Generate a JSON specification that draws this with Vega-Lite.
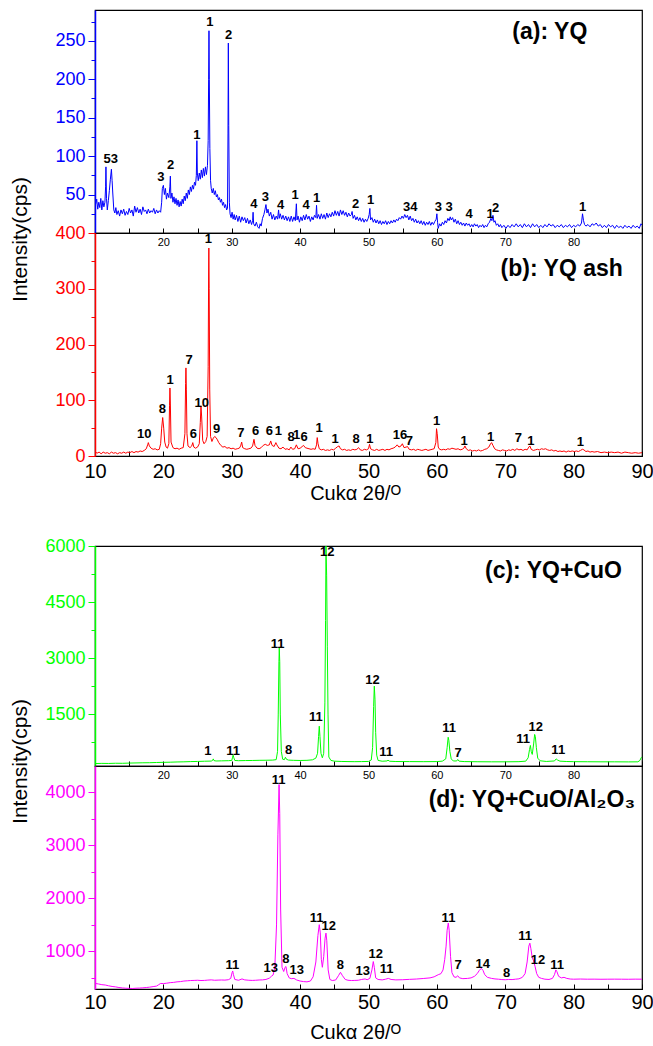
{
"$schema": "https://vega.github.io/schema/vega-lite/v6.json",
"background": "white",
"padding": {"left": 8, "top": 9, "right": 0, "bottom": 0},
"config": {"font": "Liberation Sans", "view": {"stroke": "black", "strokeWidth": 1.2}, "axis": {"grid": false, "labelFont": "Liberation Sans", "titleFont": "Liberation Sans", "labelOverlap": false, "labelFlush": false}},
"datasets": {
"a": [{"x":10,"y":52},{"x":10.1,"y":38},{"x":10.25,"y":44},{"x":10.4,"y":31},{"x":10.55,"y":40},{"x":10.7,"y":33},{"x":10.85,"y":45},{"x":11,"y":30},{"x":11.15,"y":42},{"x":11.3,"y":34},{"x":11.45,"y":40},{"x":11.55,"y":60},{"x":11.6,"y":86},{"x":11.68,"y":45},{"x":11.8,"y":30},{"x":11.95,"y":42},{"x":12.1,"y":55},{"x":12.25,"y":70},{"x":12.4,"y":83},{"x":12.5,"y":68},{"x":12.6,"y":52},{"x":12.75,"y":30},{"x":12.9,"y":26},{"x":13.05,"y":33},{"x":13.2,"y":24},{"x":13.4,"y":29},{"x":13.6,"y":22},{"x":13.8,"y":30},{"x":14,"y":25},{"x":14.2,"y":31},{"x":14.4,"y":23},{"x":14.6,"y":28},{"x":14.8,"y":24},{"x":15,"y":32},{"x":15.2,"y":26},{"x":15.4,"y":30},{"x":15.6,"y":22},{"x":15.8,"y":35},{"x":16,"y":27},{"x":16.2,"y":33},{"x":16.4,"y":26},{"x":16.6,"y":31},{"x":16.8,"y":24},{"x":17,"y":34},{"x":17.2,"y":28},{"x":17.4,"y":30},{"x":17.6,"y":25},{"x":17.8,"y":31},{"x":18,"y":26},{"x":18.2,"y":29},{"x":18.4,"y":27},{"x":18.6,"y":32},{"x":18.8,"y":25},{"x":19,"y":30},{"x":19.2,"y":26},{"x":19.4,"y":29},{"x":19.6,"y":27},{"x":19.75,"y":40},{"x":19.85,"y":58},{"x":20,"y":62},{"x":20.15,"y":50},{"x":20.3,"y":58},{"x":20.45,"y":44},{"x":20.6,"y":52},{"x":20.8,"y":46},{"x":20.95,"y":60},{"x":21.02,"y":74},{"x":21.1,"y":45},{"x":21.25,"y":52},{"x":21.4,"y":40},{"x":21.55,"y":47},{"x":21.7,"y":38},{"x":21.85,"y":45},{"x":22,"y":36},{"x":22.15,"y":43},{"x":22.3,"y":34},{"x":22.45,"y":41},{"x":22.6,"y":35},{"x":22.75,"y":44},{"x":22.9,"y":38},{"x":23.05,"y":48},{"x":23.2,"y":42},{"x":23.35,"y":52},{"x":23.5,"y":45},{"x":23.65,"y":56},{"x":23.8,"y":50},{"x":23.95,"y":60},{"x":24.1,"y":54},{"x":24.25,"y":62},{"x":24.4,"y":57},{"x":24.55,"y":66},{"x":24.7,"y":62},{"x":24.82,"y":75},{"x":24.9,"y":120},{"x":24.97,"y":78},{"x":25.1,"y":68},{"x":25.25,"y":78},{"x":25.4,"y":70},{"x":25.55,"y":82},{"x":25.7,"y":72},{"x":25.85,"y":84},{"x":26,"y":74},{"x":26.15,"y":86},{"x":26.3,"y":76},{"x":26.45,"y":88},{"x":26.55,"y":120},{"x":26.62,"y":200},{"x":26.67,"y":263},{"x":26.72,"y":200},{"x":26.8,"y":110},{"x":26.9,"y":68},{"x":27,"y":58},{"x":27.15,"y":52},{"x":27.3,"y":58},{"x":27.45,"y":50},{"x":27.6,"y":55},{"x":27.75,"y":47},{"x":27.9,"y":50},{"x":28.05,"y":43},{"x":28.2,"y":46},{"x":28.35,"y":40},{"x":28.5,"y":44},{"x":28.65,"y":36},{"x":28.8,"y":40},{"x":28.95,"y":33},{"x":29.1,"y":37},{"x":29.25,"y":30},{"x":29.38,"y":32},{"x":29.45,"y":130},{"x":29.5,"y":247},{"x":29.56,"y":140},{"x":29.65,"y":40},{"x":29.75,"y":25},{"x":29.9,"y":20},{"x":30.05,"y":27},{"x":30.2,"y":18},{"x":30.35,"y":24},{"x":30.5,"y":17},{"x":30.7,"y":23},{"x":30.9,"y":15},{"x":31.1,"y":22},{"x":31.3,"y":14},{"x":31.5,"y":21},{"x":31.7,"y":16},{"x":31.9,"y":20},{"x":32.1,"y":13},{"x":32.3,"y":19},{"x":32.5,"y":12},{"x":32.7,"y":17},{"x":32.9,"y":11},{"x":33.05,"y":16},{"x":33.12,"y":27},{"x":33.2,"y":12},{"x":33.4,"y":9},{"x":33.6,"y":14},{"x":33.8,"y":8},{"x":34,"y":6},{"x":34.15,"y":12},{"x":34.3,"y":9},{"x":34.5,"y":19},{"x":34.7,"y":24},{"x":34.85,"y":30},{"x":35,"y":37},{"x":35.15,"y":26},{"x":35.3,"y":31},{"x":35.5,"y":22},{"x":35.7,"y":27},{"x":35.9,"y":18},{"x":36.1,"y":24},{"x":36.3,"y":17},{"x":36.5,"y":22},{"x":36.7,"y":18},{"x":36.85,"y":30},{"x":36.95,"y":19},{"x":37.1,"y":25},{"x":37.3,"y":18},{"x":37.5,"y":23},{"x":37.7,"y":17},{"x":37.9,"y":22},{"x":38.1,"y":16},{"x":38.3,"y":21},{"x":38.5,"y":15},{"x":38.7,"y":22},{"x":38.9,"y":15},{"x":39.1,"y":21},{"x":39.3,"y":16},{"x":39.45,"y":38},{"x":39.55,"y":17},{"x":39.7,"y":22},{"x":39.9,"y":14},{"x":40.1,"y":21},{"x":40.3,"y":16},{"x":40.5,"y":23},{"x":40.7,"y":17},{"x":40.9,"y":24},{"x":41.1,"y":18},{"x":41.3,"y":22},{"x":41.5,"y":15},{"x":41.7,"y":21},{"x":41.9,"y":17},{"x":42.1,"y":23},{"x":42.3,"y":20},{"x":42.4,"y":36},{"x":42.5,"y":19},{"x":42.7,"y":24},{"x":42.9,"y":18},{"x":43.1,"y":25},{"x":43.3,"y":19},{"x":43.5,"y":24},{"x":43.7,"y":18},{"x":43.9,"y":26},{"x":44.1,"y":20},{"x":44.3,"y":25},{"x":44.5,"y":21},{"x":44.7,"y":27},{"x":44.9,"y":22},{"x":45.1,"y":29},{"x":45.3,"y":23},{"x":45.5,"y":28},{"x":45.7,"y":22},{"x":45.9,"y":30},{"x":46.1,"y":24},{"x":46.3,"y":29},{"x":46.5,"y":23},{"x":46.7,"y":27},{"x":46.9,"y":21},{"x":47.1,"y":26},{"x":47.3,"y":22},{"x":47.5,"y":24},{"x":47.6,"y":28},{"x":47.75,"y":19},{"x":47.95,"y":23},{"x":48.15,"y":17},{"x":48.35,"y":21},{"x":48.55,"y":16},{"x":48.75,"y":20},{"x":48.95,"y":15},{"x":49.15,"y":19},{"x":49.35,"y":14},{"x":49.55,"y":18},{"x":49.75,"y":15},{"x":49.95,"y":19},{"x":50.1,"y":24},{"x":50.2,"y":32},{"x":50.3,"y":17},{"x":50.5,"y":20},{"x":50.7,"y":14},{"x":50.9,"y":18},{"x":51.1,"y":13},{"x":51.3,"y":17},{"x":51.5,"y":12},{"x":51.7,"y":16},{"x":51.9,"y":11},{"x":52.1,"y":15},{"x":52.3,"y":12},{"x":52.5,"y":16},{"x":52.7,"y":11},{"x":52.9,"y":15},{"x":53.1,"y":12},{"x":53.3,"y":16},{"x":53.5,"y":13},{"x":53.7,"y":17},{"x":53.9,"y":14},{"x":54.1,"y":18},{"x":54.3,"y":16},{"x":54.5,"y":20},{"x":54.7,"y":18},{"x":54.9,"y":22},{"x":55.1,"y":19},{"x":55.3,"y":24},{"x":55.5,"y":20},{"x":55.7,"y":23},{"x":55.9,"y":17},{"x":56.1,"y":22},{"x":56.3,"y":16},{"x":56.5,"y":19},{"x":56.7,"y":14},{"x":56.9,"y":18},{"x":57.1,"y":13},{"x":57.3,"y":16},{"x":57.5,"y":12},{"x":57.7,"y":16},{"x":57.9,"y":11},{"x":58.1,"y":15},{"x":58.3,"y":10},{"x":58.5,"y":14},{"x":58.7,"y":11},{"x":58.9,"y":15},{"x":59.1,"y":10},{"x":59.3,"y":14},{"x":59.5,"y":11},{"x":59.7,"y":15},{"x":59.9,"y":18},{"x":60,"y":25},{"x":60.1,"y":14},{"x":60.2,"y":6},{"x":60.4,"y":12},{"x":60.6,"y":9},{"x":60.8,"y":14},{"x":61,"y":11},{"x":61.2,"y":16},{"x":61.4,"y":13},{"x":61.6,"y":19},{"x":61.8,"y":16},{"x":61.95,"y":21},{"x":62.1,"y":17},{"x":62.3,"y":20},{"x":62.5,"y":14},{"x":62.7,"y":18},{"x":62.9,"y":12},{"x":63.1,"y":16},{"x":63.3,"y":11},{"x":63.5,"y":14},{"x":63.7,"y":10},{"x":63.9,"y":13},{"x":64.1,"y":9},{"x":64.3,"y":13},{"x":64.5,"y":10},{"x":64.7,"y":12},{"x":64.9,"y":8},{"x":65.1,"y":11},{"x":65.3,"y":8},{"x":65.5,"y":12},{"x":65.7,"y":9},{"x":65.9,"y":11},{"x":66.1,"y":7},{"x":66.3,"y":10},{"x":66.5,"y":8},{"x":66.7,"y":11},{"x":66.9,"y":7},{"x":67.1,"y":10},{"x":67.3,"y":8},{"x":67.5,"y":12},{"x":67.7,"y":14},{"x":67.9,"y":19},{"x":68.05,"y":16},{"x":68.2,"y":23},{"x":68.35,"y":14},{"x":68.5,"y":16},{"x":68.7,"y":10},{"x":68.9,"y":12},{"x":69.1,"y":8},{"x":69.3,"y":11},{"x":69.5,"y":7},{"x":69.8,"y":10},{"x":70.1,"y":6},{"x":70.4,"y":10},{"x":70.7,"y":7},{"x":71,"y":11},{"x":71.3,"y":8},{"x":71.6,"y":12},{"x":71.9,"y":8},{"x":72.2,"y":11},{"x":72.5,"y":7},{"x":72.8,"y":12},{"x":73.1,"y":8},{"x":73.4,"y":11},{"x":73.7,"y":7},{"x":74,"y":12},{"x":74.3,"y":8},{"x":74.6,"y":11},{"x":74.9,"y":7},{"x":75.2,"y":10},{"x":75.5,"y":7},{"x":75.8,"y":11},{"x":76.1,"y":8},{"x":76.4,"y":12},{"x":76.7,"y":9},{"x":77,"y":11},{"x":77.3,"y":7},{"x":77.6,"y":10},{"x":77.9,"y":8},{"x":78.2,"y":11},{"x":78.5,"y":7},{"x":78.8,"y":10},{"x":79.1,"y":8},{"x":79.4,"y":11},{"x":79.7,"y":7},{"x":80,"y":10},{"x":80.3,"y":8},{"x":80.6,"y":11},{"x":80.9,"y":9},{"x":81.15,"y":13},{"x":81.3,"y":25},{"x":81.45,"y":16},{"x":81.6,"y":11},{"x":81.8,"y":9},{"x":82.1,"y":11},{"x":82.4,"y":8},{"x":82.7,"y":12},{"x":83,"y":10},{"x":83.3,"y":13},{"x":83.6,"y":9},{"x":83.9,"y":11},{"x":84.2,"y":7},{"x":84.5,"y":10},{"x":84.8,"y":7},{"x":85.1,"y":11},{"x":85.4,"y":8},{"x":85.7,"y":10},{"x":86,"y":6},{"x":86.3,"y":10},{"x":86.6,"y":7},{"x":86.9,"y":9},{"x":87.2,"y":6},{"x":87.5,"y":10},{"x":87.8,"y":7},{"x":88.1,"y":9},{"x":88.4,"y":6},{"x":88.7,"y":10},{"x":89,"y":7},{"x":89.3,"y":9},{"x":89.6,"y":6},{"x":89.85,"y":12},{"x":90,"y":10}],
"b": [{"x":10,"y":8},{"x":10.3,"y":5},{"x":10.6,"y":7},{"x":10.9,"y":4},{"x":11.2,"y":7},{"x":11.5,"y":5},{"x":11.8,"y":6},{"x":12.1,"y":4},{"x":12.4,"y":7},{"x":12.7,"y":5},{"x":13,"y":6},{"x":13.3,"y":4},{"x":13.6,"y":6},{"x":13.9,"y":5},{"x":14.2,"y":7},{"x":14.5,"y":5},{"x":14.8,"y":7},{"x":15.1,"y":6},{"x":15.4,"y":8},{"x":15.7,"y":6},{"x":16,"y":8},{"x":16.3,"y":7},{"x":16.6,"y":9},{"x":16.9,"y":8},{"x":17.2,"y":10},{"x":17.5,"y":13},{"x":17.7,"y":20},{"x":17.8,"y":24},{"x":17.95,"y":18},{"x":18.2,"y":14},{"x":18.5,"y":12},{"x":18.8,"y":13},{"x":19.1,"y":11},{"x":19.4,"y":12},{"x":19.6,"y":22},{"x":19.75,"y":50},{"x":19.9,"y":69},{"x":20.05,"y":50},{"x":20.2,"y":25},{"x":20.4,"y":16},{"x":20.6,"y":14},{"x":20.8,"y":22},{"x":20.9,"y":90},{"x":20.96,"y":122},{"x":21.02,"y":95},{"x":21.12,"y":25},{"x":21.4,"y":15},{"x":21.7,"y":13},{"x":22,"y":14},{"x":22.3,"y":12},{"x":22.6,"y":14},{"x":22.9,"y":15},{"x":23.15,"y":40},{"x":23.25,"y":130},{"x":23.3,"y":158},{"x":23.36,"y":120},{"x":23.45,"y":40},{"x":23.6,"y":18},{"x":23.9,"y":15},{"x":24.15,"y":18},{"x":24.3,"y":24},{"x":24.45,"y":16},{"x":24.7,"y":14},{"x":25,"y":16},{"x":25.25,"y":22},{"x":25.4,"y":60},{"x":25.5,"y":90},{"x":25.6,"y":70},{"x":25.75,"y":28},{"x":25.95,"y":22},{"x":26.2,"y":26},{"x":26.4,"y":35},{"x":26.55,"y":160},{"x":26.62,"y":330},{"x":26.65,"y":373},{"x":26.7,"y":300},{"x":26.78,"y":120},{"x":26.9,"y":35},{"x":27.1,"y":26},{"x":27.3,"y":32},{"x":27.5,"y":35},{"x":27.7,"y":33},{"x":27.9,"y":29},{"x":28.1,"y":24},{"x":28.4,"y":19},{"x":28.7,"y":16},{"x":29,"y":17},{"x":29.3,"y":14},{"x":29.6,"y":15},{"x":29.9,"y":13},{"x":30.2,"y":14},{"x":30.5,"y":12},{"x":30.8,"y":13},{"x":31.1,"y":14},{"x":31.3,"y":18},{"x":31.45,"y":25},{"x":31.6,"y":15},{"x":31.9,"y":13},{"x":32.2,"y":12},{"x":32.5,"y":13},{"x":32.8,"y":14},{"x":33.05,"y":18},{"x":33.25,"y":30},{"x":33.4,"y":19},{"x":33.7,"y":14},{"x":34,"y":13},{"x":34.3,"y":15},{"x":34.6,"y":19},{"x":34.9,"y":21},{"x":35.2,"y":19},{"x":35.5,"y":20},{"x":35.7,"y":27},{"x":35.9,"y":19},{"x":36.2,"y":17},{"x":36.45,"y":24},{"x":36.6,"y":20},{"x":36.9,"y":14},{"x":37.2,"y":13},{"x":37.5,"y":16},{"x":37.8,"y":12},{"x":38.1,"y":13},{"x":38.4,"y":11},{"x":38.65,"y":16},{"x":38.9,"y":12},{"x":39.2,"y":13},{"x":39.45,"y":20},{"x":39.7,"y":13},{"x":40,"y":14},{"x":40.3,"y":17},{"x":40.5,"y":19},{"x":40.75,"y":15},{"x":41,"y":14},{"x":41.3,"y":13},{"x":41.6,"y":12},{"x":41.9,"y":13},{"x":42.2,"y":12},{"x":42.4,"y":20},{"x":42.5,"y":33},{"x":42.62,"y":22},{"x":42.8,"y":13},{"x":43.1,"y":11},{"x":43.4,"y":12},{"x":43.7,"y":10},{"x":44,"y":11},{"x":44.3,"y":10},{"x":44.6,"y":12},{"x":44.9,"y":11},{"x":45.2,"y":14},{"x":45.5,"y":17},{"x":45.7,"y":18},{"x":45.9,"y":13},{"x":46.2,"y":11},{"x":46.5,"y":12},{"x":46.8,"y":10},{"x":47.1,"y":11},{"x":47.4,"y":10},{"x":47.7,"y":12},{"x":48,"y":11},{"x":48.3,"y":12},{"x":48.55,"y":15},{"x":48.8,"y":11},{"x":49.1,"y":10},{"x":49.4,"y":12},{"x":49.7,"y":11},{"x":50,"y":13},{"x":50.15,"y":21},{"x":50.3,"y":13},{"x":50.6,"y":11},{"x":50.9,"y":10},{"x":51.2,"y":12},{"x":51.5,"y":10},{"x":51.8,"y":11},{"x":52.1,"y":12},{"x":52.4,"y":10},{"x":52.7,"y":12},{"x":53,"y":11},{"x":53.3,"y":13},{"x":53.6,"y":14},{"x":53.9,"y":16},{"x":54.2,"y":20},{"x":54.45,"y":16},{"x":54.75,"y":18},{"x":54.95,"y":22},{"x":55.2,"y":15},{"x":55.5,"y":16},{"x":55.7,"y":17},{"x":55.95,"y":12},{"x":56.3,"y":11},{"x":56.6,"y":12},{"x":56.9,"y":10},{"x":57.2,"y":12},{"x":57.5,"y":11},{"x":57.8,"y":10},{"x":58.1,"y":11},{"x":58.4,"y":12},{"x":58.7,"y":10},{"x":59,"y":11},{"x":59.3,"y":12},{"x":59.6,"y":13},{"x":59.85,"y":24},{"x":59.95,"y":49},{"x":60.05,"y":40},{"x":60.2,"y":16},{"x":60.4,"y":12},{"x":60.7,"y":11},{"x":61,"y":12},{"x":61.3,"y":11},{"x":61.6,"y":13},{"x":61.9,"y":12},{"x":62.2,"y":14},{"x":62.5,"y":13},{"x":62.8,"y":12},{"x":63.1,"y":13},{"x":63.4,"y":11},{"x":63.7,"y":12},{"x":63.95,"y":14},{"x":64.1,"y":18},{"x":64.3,"y":13},{"x":64.6,"y":10},{"x":64.9,"y":11},{"x":65.2,"y":9},{"x":65.5,"y":10},{"x":65.8,"y":9},{"x":66.1,"y":11},{"x":66.4,"y":9},{"x":66.7,"y":10},{"x":67,"y":12},{"x":67.3,"y":13},{"x":67.6,"y":16},{"x":67.85,"y":22},{"x":68,"y":24},{"x":68.2,"y":19},{"x":68.45,"y":13},{"x":68.7,"y":11},{"x":69,"y":10},{"x":69.3,"y":9},{"x":69.6,"y":11},{"x":69.9,"y":10},{"x":70.2,"y":9},{"x":70.5,"y":11},{"x":70.8,"y":10},{"x":71.1,"y":12},{"x":71.4,"y":10},{"x":71.7,"y":13},{"x":72,"y":11},{"x":72.3,"y":12},{"x":72.6,"y":10},{"x":72.9,"y":12},{"x":73.2,"y":11},{"x":73.45,"y":16},{"x":73.6,"y":18},{"x":73.8,"y":12},{"x":74.1,"y":10},{"x":74.4,"y":11},{"x":74.7,"y":12},{"x":75,"y":11},{"x":75.3,"y":13},{"x":75.6,"y":12},{"x":75.9,"y":13},{"x":76.2,"y":11},{"x":76.5,"y":10},{"x":76.8,"y":11},{"x":77.1,"y":9},{"x":77.4,"y":10},{"x":77.7,"y":8},{"x":78,"y":9},{"x":78.3,"y":8},{"x":78.6,"y":9},{"x":78.9,"y":7},{"x":79.2,"y":9},{"x":79.5,"y":8},{"x":79.8,"y":9},{"x":80.1,"y":8},{"x":80.4,"y":9},{"x":80.7,"y":8},{"x":81,"y":10},{"x":81.3,"y":12},{"x":81.5,"y":11},{"x":81.8,"y":8},{"x":82.1,"y":9},{"x":82.4,"y":7},{"x":82.7,"y":8},{"x":83,"y":7},{"x":83.5,"y":8},{"x":84,"y":6},{"x":84.5,"y":7},{"x":85,"y":6},{"x":85.5,"y":7},{"x":86,"y":6},{"x":86.5,"y":7},{"x":87,"y":5},{"x":87.5,"y":7},{"x":88,"y":6},{"x":88.5,"y":5},{"x":89,"y":6},{"x":89.5,"y":5},{"x":90,"y":6}],
"c": [{"x":10,"y":176},{"x":11,"y":180},{"x":12,"y":178},{"x":13,"y":184},{"x":14,"y":182},{"x":15,"y":188},{"x":16,"y":192},{"x":17,"y":196},{"x":18,"y":198},{"x":19,"y":204},{"x":20,"y":208},{"x":21,"y":212},{"x":22,"y":218},{"x":23,"y":222},{"x":24,"y":228},{"x":25,"y":232},{"x":26,"y":238},{"x":27,"y":242},{"x":27.2,"y":260},{"x":27.3,"y":300},{"x":27.4,"y":255},{"x":27.7,"y":244},{"x":28.5,"y":248},{"x":29.5,"y":252},{"x":30,"y":258},{"x":30.1,"y":330},{"x":30.2,"y":400},{"x":30.3,"y":330},{"x":30.45,"y":258},{"x":31,"y":252},{"x":32,"y":256},{"x":33,"y":258},{"x":34,"y":262},{"x":35,"y":264},{"x":36,"y":268},{"x":36.5,"y":280},{"x":36.7,"y":500},{"x":36.8,"y":1500},{"x":36.9,"y":2900},{"x":36.95,"y":3275},{"x":37.02,"y":2900},{"x":37.1,"y":1500},{"x":37.25,"y":500},{"x":37.45,"y":290},{"x":37.7,"y":280},{"x":37.85,"y":345},{"x":38,"y":290},{"x":38.3,"y":268},{"x":39,"y":262},{"x":40,"y":258},{"x":41,"y":262},{"x":41.8,"y":275},{"x":42.3,"y":320},{"x":42.55,"y":450},{"x":42.7,"y":900},{"x":42.8,"y":1176},{"x":42.9,"y":900},{"x":43.05,"y":450},{"x":43.25,"y":330},{"x":43.45,"y":450},{"x":43.62,"y":1800},{"x":43.72,"y":4000},{"x":43.78,"y":6000},{"x":43.88,"y":5200},{"x":43.98,"y":3300},{"x":44.08,"y":1500},{"x":44.2,"y":350},{"x":44.5,"y":260},{"x":45,"y":240},{"x":46,"y":232},{"x":47,"y":228},{"x":48,"y":226},{"x":49,"y":228},{"x":50,"y":232},{"x":50.4,"y":270},{"x":50.6,"y":600},{"x":50.75,"y":1700},{"x":50.85,"y":2248},{"x":50.95,"y":1900},{"x":51.05,"y":1000},{"x":51.2,"y":400},{"x":51.4,"y":260},{"x":52,"y":238},{"x":52.7,"y":245},{"x":52.85,"y":265},{"x":53.1,"y":238},{"x":54,"y":230},{"x":56,"y":228},{"x":58,"y":226},{"x":60,"y":228},{"x":60.8,"y":240},{"x":61.3,"y":300},{"x":61.5,"y":600},{"x":61.65,"y":880},{"x":61.75,"y":800},{"x":61.9,"y":500},{"x":62.1,"y":300},{"x":62.4,"y":245},{"x":62.9,"y":245},{"x":63.05,"y":285},{"x":63.25,"y":240},{"x":64,"y":228},{"x":66,"y":224},{"x":68,"y":222},{"x":70,"y":222},{"x":72,"y":226},{"x":73,"y":240},{"x":73.35,"y":330},{"x":73.55,"y":550},{"x":73.68,"y":660},{"x":73.8,"y":500},{"x":73.95,"y":420},{"x":74.15,"y":700},{"x":74.3,"y":955},{"x":74.4,"y":900},{"x":74.55,"y":600},{"x":74.75,"y":320},{"x":75.1,"y":250},{"x":76,"y":232},{"x":77.2,"y":245},{"x":77.45,"y":300},{"x":77.65,"y":270},{"x":78,"y":240},{"x":79,"y":230},{"x":80,"y":226},{"x":82,"y":224},{"x":84,"y":222},{"x":86,"y":222},{"x":88,"y":220},{"x":89.4,"y":222},{"x":89.7,"y":260},{"x":89.9,"y":340},{"x":90,"y":345}],
"d": [{"x":10,"y":396},{"x":10.5,"y":385},{"x":11,"y":372},{"x":11.5,"y":365},{"x":12,"y":350},{"x":12.5,"y":338},{"x":13,"y":330},{"x":13.5,"y":318},{"x":14,"y":310},{"x":14.5,"y":305},{"x":15,"y":302},{"x":15.5,"y":300},{"x":16,"y":305},{"x":16.5,"y":308},{"x":17,"y":312},{"x":17.5,"y":318},{"x":18,"y":325},{"x":18.5,"y":335},{"x":19,"y":345},{"x":19.3,"y":370},{"x":19.6,"y":395},{"x":20,"y":392},{"x":20.5,"y":400},{"x":21,"y":410},{"x":21.5,"y":415},{"x":22,"y":425},{"x":22.5,"y":430},{"x":23,"y":440},{"x":23.5,"y":445},{"x":24,"y":450},{"x":24.5,"y":452},{"x":25,"y":455},{"x":25.5,"y":450},{"x":26,"y":452},{"x":26.5,"y":458},{"x":27,"y":462},{"x":27.5,"y":455},{"x":28,"y":458},{"x":28.5,"y":460},{"x":29,"y":458},{"x":29.5,"y":465},{"x":29.85,"y":490},{"x":30.05,"y":600},{"x":30.14,"y":630},{"x":30.25,"y":560},{"x":30.45,"y":470},{"x":31,"y":455},{"x":31.5,"y":480},{"x":31.9,"y":462},{"x":32.5,"y":455},{"x":33,"y":452},{"x":33.5,"y":455},{"x":34,"y":460},{"x":34.5,"y":462},{"x":35,"y":470},{"x":35.5,"y":495},{"x":35.8,"y":530},{"x":36.05,"y":555},{"x":36.3,"y":700},{"x":36.55,"y":1500},{"x":36.75,"y":3200},{"x":36.92,"y":4150},{"x":37.02,"y":3600},{"x":37.15,"y":1800},{"x":37.35,"y":700},{"x":37.6,"y":620},{"x":37.8,"y":700},{"x":37.93,"y":715},{"x":38.1,"y":580},{"x":38.4,"y":500},{"x":38.7,"y":485},{"x":39.1,"y":490},{"x":39.5,"y":460},{"x":40,"y":440},{"x":40.5,"y":430},{"x":41,"y":425},{"x":41.5,"y":440},{"x":41.9,"y":520},{"x":42.3,"y":800},{"x":42.6,"y":1300},{"x":42.8,"y":1505},{"x":42.95,"y":1350},{"x":43.1,"y":850},{"x":43.25,"y":700},{"x":43.45,"y":900},{"x":43.65,"y":1250},{"x":43.78,"y":1345},{"x":43.9,"y":1200},{"x":44.1,"y":650},{"x":44.35,"y":470},{"x":44.7,"y":450},{"x":45.2,"y":460},{"x":45.6,"y":540},{"x":45.9,"y":605},{"x":46.2,"y":540},{"x":46.6,"y":470},{"x":47,"y":455},{"x":47.5,"y":450},{"x":48,"y":452},{"x":48.5,"y":455},{"x":49,"y":470},{"x":49.5,"y":480},{"x":49.8,"y":465},{"x":50.2,"y":490},{"x":50.5,"y":650},{"x":50.7,"y":808},{"x":50.85,"y":700},{"x":51.05,"y":500},{"x":51.4,"y":470},{"x":52,"y":462},{"x":52.5,"y":475},{"x":52.9,"y":490},{"x":53.3,"y":470},{"x":54,"y":462},{"x":55,"y":465},{"x":56,"y":472},{"x":57,"y":478},{"x":58,"y":488},{"x":59,"y":500},{"x":59.6,"y":520},{"x":60.2,"y":560},{"x":60.6,"y":580},{"x":60.9,"y":650},{"x":61.15,"y":850},{"x":61.35,"y":1100},{"x":61.5,"y":1400},{"x":61.67,"y":1535},{"x":61.8,"y":1400},{"x":62.0,"y":900},{"x":62.2,"y":600},{"x":62.5,"y":520},{"x":62.8,"y":510},{"x":63.05,"y":540},{"x":63.3,"y":500},{"x":63.8,"y":485},{"x":64.5,"y":490},{"x":65,"y":500},{"x":65.5,"y":530},{"x":65.9,"y":580},{"x":66.2,"y":640},{"x":66.5,"y":680},{"x":66.75,"y":640},{"x":67,"y":560},{"x":67.4,"y":510},{"x":68,"y":490},{"x":68.5,"y":480},{"x":69,"y":475},{"x":69.5,"y":468},{"x":70,"y":465},{"x":70.5,"y":470},{"x":71,"y":468},{"x":71.5,"y":475},{"x":72,"y":482},{"x":72.5,"y":510},{"x":72.9,"y":580},{"x":73.2,"y":800},{"x":73.45,"y":1100},{"x":73.6,"y":1155},{"x":73.75,"y":1050},{"x":73.95,"y":880},{"x":74.15,"y":820},{"x":74.35,"y":720},{"x":74.6,"y":580},{"x":74.9,"y":510},{"x":75.3,"y":490},{"x":75.8,"y":475},{"x":76.4,"y":470},{"x":76.9,"y":490},{"x":77.2,"y":560},{"x":77.4,"y":650},{"x":77.55,"y":620},{"x":77.8,"y":530},{"x":78.2,"y":500},{"x":78.6,"y":510},{"x":79,"y":490},{"x":79.5,"y":478},{"x":80,"y":475},{"x":81,"y":478},{"x":82,"y":475},{"x":83,"y":476},{"x":84,"y":474},{"x":85,"y":475},{"x":86,"y":476},{"x":87,"y":475},{"x":88,"y":474},{"x":89,"y":476},{"x":90,"y":475}],
"la": [{"x":12.3,"y":87.5,"t":"53"},{"x":19.65,"y":64,"t":"3"},{"x":21.07,"y":79,"t":"2"},{"x":24.9,"y":118,"t":"1"},{"x":26.8,"y":265,"t":"1"},{"x":29.55,"y":248,"t":"2"},{"x":33.25,"y":28,"t":"4"},{"x":34.9,"y":38,"t":"3"},{"x":37.15,"y":27,"t":"4"},{"x":39.25,"y":40,"t":"1"},{"x":40.86,"y":27,"t":"4"},{"x":42.4,"y":36,"t":"1"},{"x":48.1,"y":29,"t":"2"},{"x":50.3,"y":34,"t":"1"},{"x":56.1,"y":25,"t":"34"},{"x":60.2,"y":25,"t":"3"},{"x":61.8,"y":25,"t":"3"},{"x":64.7,"y":16,"t":"4"},{"x":67.8,"y":16,"t":"1"},{"x":68.6,"y":24,"t":"2"},{"x":81.3,"y":25,"t":"1"}],
"lb": [{"x":17.2,"y":27,"t":"10"},{"x":19.85,"y":72,"t":"8"},{"x":20.97,"y":124,"t":"1"},{"x":23.75,"y":159,"t":"7"},{"x":24.4,"y":27,"t":"6"},{"x":25.6,"y":82,"t":"10"},{"x":26.57,"y":377,"t":"1"},{"x":27.8,"y":36,"t":"9"},{"x":31.35,"y":28,"t":"7"},{"x":33.5,"y":32,"t":"6"},{"x":35.5,"y":32,"t":"6"},{"x":36.8,"y":32,"t":"1"},{"x":38.67,"y":21,"t":"8"},{"x":39.5,"y":25,"t":"1"},{"x":40.6,"y":21,"t":"6"},{"x":42.76,"y":37,"t":"1"},{"x":45.1,"y":18,"t":"1"},{"x":48.2,"y":18,"t":"8"},{"x":50.2,"y":18,"t":"1"},{"x":54.6,"y":25,"t":"16"},{"x":55.97,"y":15,"t":"7"},{"x":59.97,"y":51,"t":"1"},{"x":64,"y":15,"t":"1"},{"x":67.85,"y":21,"t":"1"},{"x":71.9,"y":19,"t":"7"},{"x":73.75,"y":15,"t":"1"},{"x":81,"y":12,"t":"1"}],
"lc": [{"x":26.5,"y":327,"t":"1"},{"x":30.2,"y":327,"t":"11"},{"x":36.7,"y":3186,"t":"11"},{"x":38.3,"y":354,"t":"8"},{"x":42.3,"y":1222,"t":"11"},{"x":43.98,"y":5643,"t":"12"},{"x":50.6,"y":2221,"t":"12"},{"x":52.56,"y":300,"t":"11"},{"x":61.8,"y":927,"t":"11"},{"x":63.1,"y":284,"t":"7"},{"x":72.6,"y":640,"t":"11"},{"x":74.45,"y":970,"t":"12"},{"x":77.75,"y":345,"t":"11"}],
"ld": [{"x":30.1,"y":618,"t":"11"},{"x":35.7,"y":555,"t":"13"},{"x":36.85,"y":4100,"t":"11"},{"x":37.9,"y":727,"t":"8"},{"x":39.5,"y":525,"t":"13"},{"x":42.4,"y":1505,"t":"11"},{"x":44.2,"y":1346,"t":"12"},{"x":45.9,"y":605,"t":"8"},{"x":49.15,"y":504,"t":"13"},{"x":51.05,"y":827,"t":"12"},{"x":52.65,"y":530,"t":"11"},{"x":61.7,"y":1505,"t":"11"},{"x":63.1,"y":618,"t":"7"},{"x":66.7,"y":637,"t":"14"},{"x":70.2,"y":460,"t":"8"},{"x":72.9,"y":1156,"t":"11"},{"x":74.8,"y":713,"t":"12"},{"x":77.6,"y":605,"t":"11"}]
},
"vconcat": [
{"width": 547, "height": 223,
 "encoding": {
  "x": {"field": "x", "type": "quantitative", "scale": {"domain": [10, 90], "nice": false, "zero": false},
   "axis": {"values": [10,15,20,25,30,35,40,45,50,55,60,65,70,75,80,85,90], "labelExpr": "datum.value % 10 == 0 && datum.value > 10 && datum.value < 90 ? datum.label : ''", "labelFontSize": 11, "tickSize": -5, "labelPadding": 8, "domainColor": "black", "tickColor": "black", "labelColor": "black", "title": null}},
  "y": {"field": "y", "type": "quantitative", "scale": {"domain": [0, 290], "nice": false, "zero": false},
   "axis": {"values": [25,50,75,100,125,150,175,200,225,250,275], "labelExpr": "datum.value % 50 == 0 ? datum.label : ''", "tickSize": {"condition": {"test": "datum.value % 50 != 0", "value": 4}, "value": 7}, "format": "d", "domainColor": "#0000ff", "tickColor": "#0000ff", "labelColor": "#0000ff", "labelFontSize": 18, "domainWidth": 1.5, "labelPadding": 3, "title": "Intensity(cps)", "titleFontSize": 21, "titleFontWeight": "normal", "titleColor": "black", "titleX": -75, "titleY": 229, "titleAngle": -90, "titleAlign": "center", "titleBaseline": "middle"}}
 },
 "layer": [
  {"data": {"name": "a"}, "mark": {"type": "line", "color": "#0000ff", "strokeWidth": 1, "clip": true}},
  {"data": {"name": "la"}, "mark": {"type": "text", "fontSize": 13, "fontWeight": "bold", "baseline": "bottom", "align": "center", "color": "black"}, "encoding": {"text": {"field": "t"}}},
  {"data": {"values": [{"x": 82, "y": 262, "t": "(a): YQ"}]}, "mark": {"type": "text", "fontSize": 23, "fontWeight": "bold", "baseline": "middle", "align": "right", "color": "black"}, "encoding": {"text": {"field": "t"}}},
  {"data": {"values": [{}]}, "mark": {"type": "rule", "color": "#0000ff", "strokeWidth": 1.5}, "encoding": {"x": {"datum": 90}, "y": {"datum": 0}, "y2": {"datum": 290}}}
 ]},
{"width": 547, "height": 223,
 "encoding": {
  "x": {"field": "x", "type": "quantitative", "scale": {"domain": [10, 90], "nice": false, "zero": false},
   "axis": {"values": [10,15,20,25,30,35,40,45,50,55,60,65,70,75,80,85,90], "labelExpr": "datum.value % 10 == 0 ? datum.label : ''", "labelFontSize": 20, "tickSize": -5, "labelPadding": 10, "domainColor": "black", "tickColor": "black", "labelColor": "black", "title": "Cukα 2θ/ᴼ", "titleFontSize": 20, "titleFontWeight": "normal", "titleColor": "black", "titleX": 260, "titleY": 37, "titleAlign": "center", "titleBaseline": "middle"}},
  "y": {"field": "y", "type": "quantitative", "scale": {"domain": [0, 400], "nice": false, "zero": false},
   "axis": {"values": [0,50,100,150,200,250,300,350,400], "labelExpr": "datum.value % 100 == 0 ? datum.label : ''", "tickSize": {"condition": {"test": "datum.value % 100 != 0", "value": 4}, "value": 7}, "format": "d", "domainColor": "#ff0000", "tickColor": "#ff0000", "labelColor": "#ff0000", "labelFontSize": 18, "domainWidth": 1.5, "labelPadding": 3, "title": null}}
 },
 "layer": [
  {"data": {"name": "b"}, "mark": {"type": "line", "color": "#ff0000", "strokeWidth": 1, "clip": true}},
  {"data": {"name": "lb"}, "mark": {"type": "text", "fontSize": 13, "fontWeight": "bold", "baseline": "bottom", "align": "center", "color": "black"}, "encoding": {"text": {"field": "t"}}},
  {"data": {"values": [{"x": 87.2, "y": 335, "t": "(b): YQ ash"}]}, "mark": {"type": "text", "fontSize": 23, "fontWeight": "bold", "baseline": "middle", "align": "right", "color": "black"}, "encoding": {"text": {"field": "t"}}},
  {"data": {"values": [{}]}, "mark": {"type": "rule", "color": "#ff0000", "strokeWidth": 1.5}, "encoding": {"x": {"datum": 90}, "y": {"datum": 0}, "y2": {"datum": 400}}}
 ]},
{"width": 547, "height": 90, "view": {"stroke": null},
 "data": {"values": [{}]},
 "mark": {"type": "text", "text": ""}},
{"width": 547, "height": 220,
 "encoding": {
  "x": {"field": "x", "type": "quantitative", "scale": {"domain": [10, 90], "nice": false, "zero": false},
   "axis": {"values": [10,15,20,25,30,35,40,45,50,55,60,65,70,75,80,85,90], "labelExpr": "datum.value % 10 == 0 && datum.value > 10 && datum.value < 90 ? datum.label : ''", "labelFontSize": 11, "tickSize": -5, "labelPadding": 8, "domainColor": "black", "tickColor": "black", "labelColor": "black", "title": null}},
  "y": {"field": "y", "type": "quantitative", "scale": {"domain": [110, 6000], "nice": false, "zero": false},
   "axis": {"values": [750,1500,2250,3000,3750,4500,5250,6000], "labelExpr": "datum.value % 1500 == 0 ? datum.label : ''", "tickSize": {"condition": {"test": "datum.value % 1500 != 0", "value": 4}, "value": 7}, "format": "d", "domainColor": "#00ff00", "tickColor": "#00ff00", "labelColor": "#00ff00", "labelFontSize": 18, "domainWidth": 1.5, "labelPadding": 3, "title": "Intensity(cps)", "titleFontSize": 21, "titleFontWeight": "normal", "titleColor": "black", "titleX": -75, "titleY": 215, "titleAngle": -90, "titleAlign": "center", "titleBaseline": "middle"}}
 },
 "layer": [
  {"data": {"name": "c"}, "mark": {"type": "line", "color": "#00ff00", "strokeWidth": 1, "clip": true}},
  {"data": {"name": "lc"}, "mark": {"type": "text", "fontSize": 13, "fontWeight": "bold", "baseline": "bottom", "align": "center", "color": "black"}, "encoding": {"text": {"field": "t"}}},
  {"data": {"values": [{"x": 87.07, "y": 5330, "t": "(c): YQ+CuO"}]}, "mark": {"type": "text", "fontSize": 23, "fontWeight": "bold", "baseline": "middle", "align": "right", "color": "black"}, "encoding": {"text": {"field": "t"}}},
  {"data": {"values": [{}]}, "mark": {"type": "rule", "color": "#00ff00", "strokeWidth": 1.5}, "encoding": {"x": {"datum": 90}, "y": {"datum": 110}, "y2": {"datum": 6000}}}
 ]},
{"width": 547, "height": 223,
 "encoding": {
  "x": {"field": "x", "type": "quantitative", "scale": {"domain": [10, 90], "nice": false, "zero": false},
   "axis": {"values": [10,15,20,25,30,35,40,45,50,55,60,65,70,75,80,85,90], "labelExpr": "datum.value % 10 == 0 ? datum.label : ''", "labelFontSize": 20, "tickSize": -5, "labelPadding": 8, "domainColor": "black", "tickColor": "black", "labelColor": "black", "title": "Cukα 2θ/ᴼ", "titleFontSize": 20, "titleFontWeight": "normal", "titleColor": "black", "titleX": 260, "titleY": 43, "titleAlign": "center", "titleBaseline": "middle"}},
  "y": {"field": "y", "type": "quantitative", "scale": {"domain": [290, 4500], "nice": false, "zero": false},
   "axis": {"values": [500,1000,1500,2000,2500,3000,3500,4000], "labelExpr": "datum.value % 1000 == 0 ? datum.label : ''", "tickSize": {"condition": {"test": "datum.value % 1000 != 0", "value": 4}, "value": 7}, "format": "d", "domainColor": "#ff00ff", "tickColor": "#ff00ff", "labelColor": "#ff00ff", "labelFontSize": 18, "domainWidth": 1.5, "labelPadding": 3, "title": null}}
 },
 "layer": [
  {"data": {"name": "d"}, "mark": {"type": "line", "color": "#ff00ff", "strokeWidth": 1, "clip": true}},
  {"data": {"name": "ld"}, "mark": {"type": "text", "fontSize": 13, "fontWeight": "bold", "baseline": "bottom", "align": "center", "color": "black"}, "encoding": {"text": {"field": "t"}}},
  {"data": {"values": [{"x": 88.98, "y": 3867, "t": "(d): YQ+CuO/Al₂O₃"}]}, "mark": {"type": "text", "fontSize": 23, "fontWeight": "bold", "baseline": "middle", "align": "right", "color": "black"}, "encoding": {"text": {"field": "t"}}},
  {"data": {"values": [{}]}, "mark": {"type": "rule", "color": "#ff00ff", "strokeWidth": 1.5}, "encoding": {"x": {"datum": 90}, "y": {"datum": 290}, "y2": {"datum": 4500}}}
 ]}
], "spacing": 0, "bounds": "flush"
}
